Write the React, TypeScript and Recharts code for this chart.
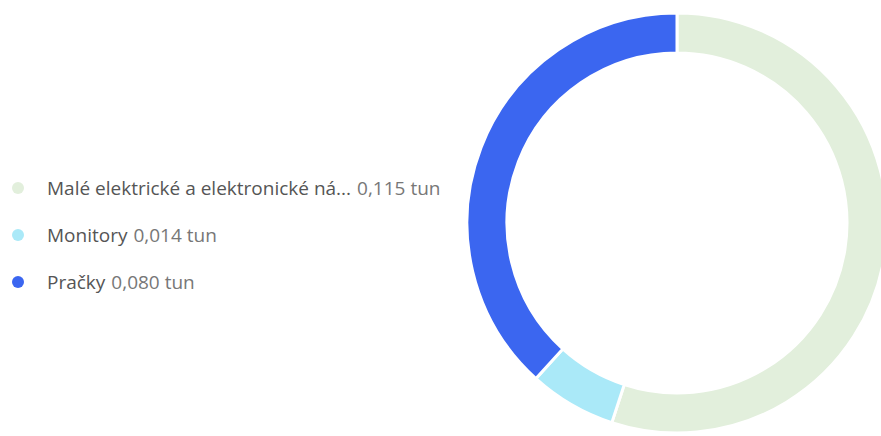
import { Cell, Legend, Pie, PieChart } from "recharts";

const categories = ["Malé elektrické a elektronické ná...", "Monitory", "Pračky"];
const tonnes = [0.115, 0.014, 0.08];
const colors = ["#e2efdc", "#aae9f8", "#3b66f0"];

const data = categories.map((name, i) => ({ name, value: tonnes[i] }));

const fmt = (v: number) => `${v.toFixed(3).replace(".", ",")} tun`;

const LegendList = () => (
	<div style={{ fontFamily: "'Open Sans', sans-serif", fontSize: 19 }}>
		{data.map((d, i) => (
			<div key={d.name} style={{ display: "flex", alignItems: "center", height: 47 }}>
				<span style={{ width: 12, height: 12, borderRadius: "50%", background: colors[i], display: "inline-block", marginRight: 23 }} />
				<span style={{ color: "#555" }}>{d.name}</span>
				<span style={{ color: "#777", marginLeft: 6 }}>{fmt(d.value)}</span>
			</div>
		))}
	</div>
);

export default function App() {
	return (
		// absolute so the ring can run to the window's right edge like the reference
		<div style={{ position: "absolute", left: 0, top: 0, width: 881, height: 436, overflow: "hidden" }}>
			<PieChart width={881} height={436} margin={{ top: 0, right: 0, bottom: 0, left: 0 }}>
				<Pie
					data={data}
					dataKey="value"
					nameKey="name"
					cx={677}
					cy={223}
					innerRadius={170}
					outerRadius={210}
					startAngle={90}
					endAngle={-270}
					stroke="#fff"
					strokeWidth={3}
					isAnimationActive={false}
				>
					{data.map((_, i) => (
						<Cell key={`cell-${i}`} fill={colors[i]} />
					))}
				</Pie>
				<Legend content={<LegendList />} wrapperStyle={{ left: 12, top: 164, width: "auto" }} />
			</PieChart>
		</div>
	);
}
